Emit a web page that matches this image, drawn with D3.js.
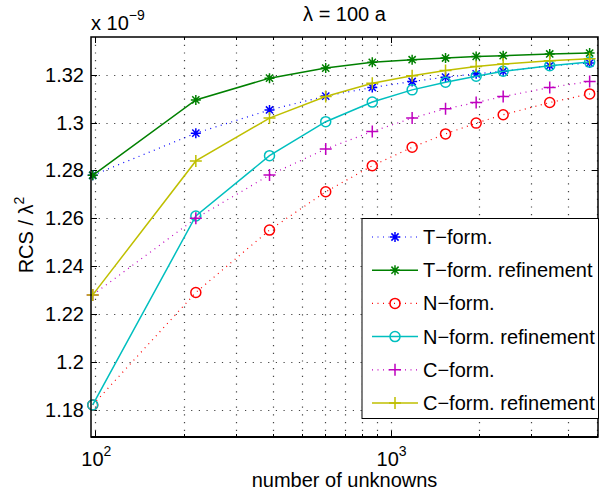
<!DOCTYPE html>
<html>
<head>
<meta charset="utf-8">
<script src="https://cdn.jsdelivr.net/npm/d3@7"></script>
<style>
  body { margin: 0; background: #fff; }
  text { font-family: "Liberation Sans", Arial, sans-serif; fill: #000; }
</style>
</head>
<body>
<div id="chart"></div>
<script>
// number of unknowns (x)
const unknowns = [98, 219, 389, 603, 867, 1183, 1535, 1949, 2406, 3459, 4722];

// RCS / lambda^2, units of 1e-9
const tForm    = [1.278, 1.2956, 1.3053, 1.3111, 1.3147, 1.3172, 1.3190, 1.3204, 1.3215, 1.3238, 1.3249];
const tFormRef = [1.278, 1.3095, 1.3186, 1.3228, 1.3252, 1.3263, 1.3270, 1.3277, 1.3280, 1.3287, 1.3291];
const nForm    = [1.182, 1.2290, 1.2551, 1.2711, 1.2820, 1.2897, 1.2953, 1.2998, 1.3033, 1.3084, 1.3120];
const nFormRef = [1.182, 1.2610, 1.2862, 1.3004, 1.3086, 1.3137, 1.3169, 1.3194, 1.3215, 1.3238, 1.3253];
const cForm    = [1.228, 1.2600, 1.2781, 1.2890, 1.2963, 1.3019, 1.3058, 1.3084, 1.3109, 1.3147, 1.3172];
const cFormRef = [1.228, 1.2840, 1.3019, 1.3109, 1.3165, 1.3196, 1.3218, 1.3235, 1.3245, 1.3259, 1.3267];

const yTicks = [1.18, 1.2, 1.22, 1.24, 1.26, 1.28, 1.3, 1.32];
const yTickLabels = ["1.18", "1.2", "1.22", "1.24", "1.26", "1.28", "1.3", "1.32"];
const xMajor = [100, 1000];
const xMinor = [200, 300, 400, 500, 600, 700, 800, 900, 2000, 3000, 4000, 5000];

const series = [
  {name: "T\u2212form.",            values: tForm,    color: "#0000ff", dotted: true,  marker: "star"},
  {name: "T\u2212form. refinement", values: tFormRef, color: "#008000", dotted: false, marker: "star"},
  {name: "N\u2212form.",            values: nForm,    color: "#ff0000", dotted: true,  marker: "circle"},
  {name: "N\u2212form. refinement", values: nFormRef, color: "#00bfbf", dotted: false, marker: "circle"},
  {name: "C\u2212form.",            values: cForm,    color: "#bf00bf", dotted: true,  marker: "plus"},
  {name: "C\u2212form. refinement", values: cFormRef, color: "#bfbf00", dotted: false, marker: "plus"}
];

const width = 601, height = 495;
const margin = {top: 37, right: 3, bottom: 58, left: 91};
const plotW = width - margin.left - margin.right;
const plotH = height - margin.top - margin.bottom;

const svg = d3.select("#chart").append("svg")
  .attr("width", width)
  .attr("height", height);

const x = d3.scaleLog().domain([96.7, 5040]).range([0, plotW]);
const y = d3.scaleLinear().domain([1.1686, 1.3358]).range([plotH, 0]);

const g = svg.append("g").attr("transform", `translate(${margin.left},${margin.top})`);

// grid, sparse dots like matlab ':'
const grid = g.append("g")
  .attr("stroke", "#444")
  .attr("stroke-width", 1.2)
  .attr("stroke-dasharray", "1.2,6.5");
xMajor.concat(xMinor).forEach(v => {
  grid.append("line")
    .attr("x1", Math.round(x(v)) + 0.5).attr("x2", Math.round(x(v)) + 0.5)
    .attr("y1", 0).attr("y2", plotH);
});
yTicks.forEach(v => {
  grid.append("line")
    .attr("x1", 0).attr("x2", plotW)
    .attr("y1", Math.round(y(v)) + 0.5).attr("y2", Math.round(y(v)) + 0.5);
});

// ticks (inside, on all four sides)
const ticks = g.append("g").attr("stroke", "#000").attr("stroke-width", 1);
yTicks.forEach(v => {
  const yy = Math.round(y(v)) + 0.5;
  ticks.append("line").attr("x1", 0).attr("x2", 6).attr("y1", yy).attr("y2", yy);
  ticks.append("line").attr("x1", plotW).attr("x2", plotW - 6).attr("y1", yy).attr("y2", yy);
});
xMajor.forEach(v => {
  const xx = Math.round(x(v)) + 0.5;
  ticks.append("line").attr("x1", xx).attr("x2", xx).attr("y1", plotH).attr("y2", plotH - 6);
  ticks.append("line").attr("x1", xx).attr("x2", xx).attr("y1", 0).attr("y2", 6);
});
xMinor.forEach(v => {
  const xx = Math.round(x(v)) + 0.5;
  ticks.append("line").attr("x1", xx).attr("x2", xx).attr("y1", plotH).attr("y2", plotH - 3);
  ticks.append("line").attr("x1", xx).attr("x2", xx).attr("y1", 0).attr("y2", 3);
});

// y tick labels
g.append("g").selectAll("text")
  .data(yTicks)
  .join("text")
  .attr("x", -7)
  .attr("y", d => y(d) + 7)
  .attr("text-anchor", "end")
  .style("font-size", "20px")
  .text((d, i) => yTickLabels[i]);

// x tick labels: 10^2, 10^3
xMajor.forEach(v => {
  const t = g.append("text")
    .attr("x", x(v) + 1)
    .attr("y", plotH + 29)
    .attr("text-anchor", "middle")
    .style("font-size", "20px");
  t.append("tspan").text("10");
  t.append("tspan").attr("dy", -10).style("font-size", "14px").text(Math.round(Math.log10(v)));
});

// lines and markers
const line = d3.line()
  .x((d, i) => x(unknowns[i]))
  .y(d => y(d));

function drawMarker(sel, type, color, cx, cy) {
  if (type === "circle") {
    sel.append("circle").attr("cx", cx).attr("cy", cy).attr("r", 5)
      .attr("fill", "none").attr("stroke", color).attr("stroke-width", 1.5);
  } else if (type === "plus") {
    const s = 6;
    sel.append("path")
      .attr("d", `M${cx - s},${cy}H${cx + s}M${cx},${cy - s}V${cy + s}`)
      .attr("stroke", color).attr("stroke-width", 1.5).attr("fill", "none");
  } else {
    const s = 5, d = 3.6;
    sel.append("path")
      .attr("d", `M${cx - s},${cy}H${cx + s}M${cx},${cy - s}V${cy + s}` +
                 `M${cx - d},${cy - d}L${cx + d},${cy + d}M${cx - d},${cy + d}L${cx + d},${cy - d}`)
      .attr("stroke", color).attr("stroke-width", 1.5).attr("fill", "none");
  }
}

series.forEach(s => {
  g.append("path")
    .datum(s.values)
    .attr("d", line)
    .attr("fill", "none")
    .attr("stroke", s.color)
    .attr("stroke-width", s.dotted ? 1.2 : 1.5)
    .attr("stroke-dasharray", s.dotted ? "1,4.5" : null);
  const mg = g.append("g");
  s.values.forEach((v, i) => drawMarker(mg, s.marker, s.color, x(unknowns[i]), y(v)));
});

// axes box
g.append("rect")
  .attr("x", 0).attr("y", 0)
  .attr("width", plotW).attr("height", plotH)
  .attr("fill", "none")
  .attr("stroke", "#000")
  .attr("stroke-width", 1.5);
g.append("line")
  .attr("x1", 0).attr("x2", plotW)
  .attr("y1", plotH).attr("y2", plotH)
  .attr("stroke", "#000")
  .attr("stroke-width", 2);

// legend
const lgX = 362, lgY = 218.5, lgW = 236.5, lgH = 200, rowH = 33.2;
const legend = svg.append("g");
legend.append("rect")
  .attr("x", lgX).attr("y", lgY)
  .attr("width", lgW).attr("height", lgH)
  .attr("fill", "#fff")
  .attr("stroke", "#000")
  .attr("stroke-width", 1);
series.forEach((s, i) => {
  const ly = lgY + 18.5 + i * rowH;
  legend.append("line")
    .attr("x1", lgX + 10).attr("x2", lgX + 56)
    .attr("y1", ly).attr("y2", ly)
    .attr("stroke", s.color)
    .attr("stroke-width", s.dotted ? 1.2 : 1.5)
    .attr("stroke-dasharray", s.dotted ? "1,4.5" : null);
  drawMarker(legend, s.marker, s.color, lgX + 33, ly);
  legend.append("text")
    .attr("x", lgX + 61)
    .attr("y", ly + 7)
    .style("font-size", "20px")
    .text(s.name);
});

// title, exponent and axis labels
svg.append("text")
  .attr("x", margin.left + plotW / 2)
  .attr("y", 21)
  .attr("text-anchor", "middle")
  .style("font-size", "20px")
  .text("\u03bb = 100 a");

const expo = svg.append("text")
  .attr("x", margin.left)
  .attr("y", 30)
  .style("font-size", "20px");
expo.append("tspan").text("x 10");
expo.append("tspan").attr("dy", -10).style("font-size", "14px").text("\u22129");

svg.append("text")
  .attr("x", margin.left + plotW / 2)
  .attr("y", 487)
  .attr("text-anchor", "middle")
  .style("font-size", "20px")
  .text("number of unknowns");

const yl = svg.append("text")
  .attr("transform", `translate(33,${margin.top + plotH / 2 - 2}) rotate(-90)`)
  .attr("text-anchor", "middle")
  .style("font-size", "20px");
yl.append("tspan").text("RCS / \u03bb");
yl.append("tspan").attr("dy", -9).style("font-size", "14px").text("2");
</script>
</body>
</html>
